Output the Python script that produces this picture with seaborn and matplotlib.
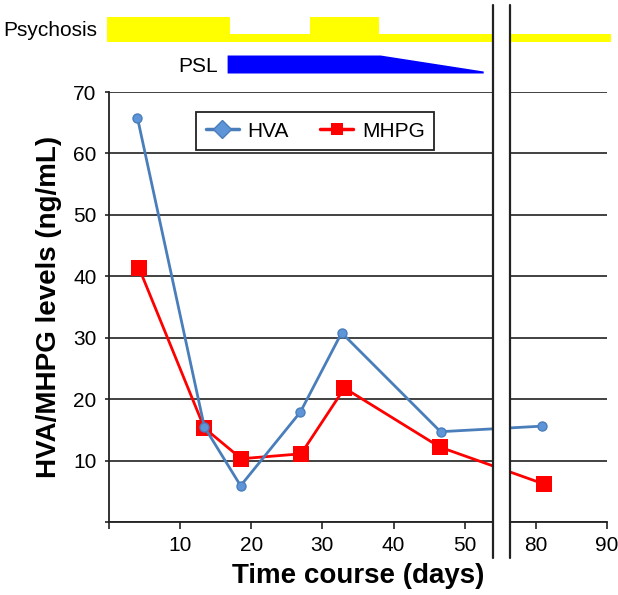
import numpy as np
import pandas as pd
import seaborn as sns
import matplotlib.pyplot as plt
from matplotlib.lines import Line2D
from matplotlib.patches import Rectangle
from matplotlib.transforms import blended_transform_factory

# Values (days, ng/mL)
hva_days = [4.0, 13.4, 18.5, 26.9, 32.7, 46.6, 80.8]
hva_vals = [65.8, 15.5, 5.9, 17.9, 30.8, 14.7, 15.6]
mhpg_days = [4.2, 13.4, 18.6, 27.0, 33.1, 46.5, 81.1]
mhpg_vals = [41.4, 15.3, 10.3, 11.1, 21.8, 12.2, 6.2]

# Clinical course bars (days)
psychosis_span = (0.0, 90.6)
psychosis_high = [(0.0, 17.3), (28.3, 38.0)]
psl_days = [16.6, 38.1, 52.6]  # start, taper start, end

xtick_days = [0, 10, 20, 30, 40, 50, 80, 90]
ytick_vals = [0, 10, 20, 30, 40, 50, 60, 70]

# broken x axis: days 55-75 are cut out
BREAK_AT = 55
SHIFT = 20


def to_axis(d):
    d = np.asarray(d, dtype=float)
    return np.where(d > BREAK_AT, d - SHIFT, d)


sns.set_style("white")
plt.rcParams['font.family'] = ['Liberation Sans', 'DejaVu Sans']
plt.rcParams.update({'text.color': 'black', 'axes.labelcolor': 'black',
                     'xtick.color': 'black', 'ytick.color': 'black'})

W, H = 618, 595
fig = plt.figure(figsize=(W / 100, H / 100), dpi=100)

# main axes (pixel layout)
ax = fig.add_axes([109 / W, (H - 522) / H, (607 - 109) / W, (522 - 92) / H])

hva_color = '#4A7EBB'
df_hva = pd.DataFrame({'pos': to_axis(hva_days), 'value': hva_vals})
df_mhpg = pd.DataFrame({'pos': to_axis(mhpg_days), 'value': mhpg_vals})

sns.lineplot(data=df_mhpg, x='pos', y='value', ax=ax, color='#FF0000', lw=2,
             marker='s', markersize=11, markeredgewidth=0, sort=False,
             estimator=None, zorder=3)
sns.lineplot(data=df_hva, x='pos', y='value', ax=ax, color=hva_color, lw=2,
             marker='o', markersize=6.5, markerfacecolor='#5E94D8',
             markeredgecolor=hva_color, markeredgewidth=1, sort=False,
             estimator=None, zorder=4)

ax.set_xlim(0, 70)
ax.set_ylim(0, 70)
ax.set_xticks(to_axis(xtick_days))
ax.set_xticklabels([str(d) if d > 0 else '' for d in xtick_days], fontsize=15)
ax.set_yticks(ytick_vals)
ax.set_yticklabels([str(v) if v > 0 else '' for v in ytick_vals], fontsize=15)
ax.yaxis.grid(True, color='#333333', lw=1.3)
ax.xaxis.grid(False)
for s in ['top', 'right']:
    ax.spines[s].set_visible(False)
for s in ['left', 'bottom']:
    ax.spines[s].set_color('#222222')
    ax.spines[s].set_linewidth(1.3)
ax.tick_params(axis='x', bottom=True, direction='out', length=5, width=1.2,
               color='#222222', pad=5)
ax.tick_params(axis='y', left=True, direction='out', length=3, width=1.2,
               color='#222222', pad=6)
ax.set_xlabel('Time course (days)', fontsize=20, fontweight='bold', labelpad=6)
ax.set_ylabel('HVA/MHPG levels (ng/mL)', fontsize=20, fontweight='bold', labelpad=8)

handles = [
    Line2D([0], [0], color=hva_color, lw=2.5, marker='D', markersize=9,
           markerfacecolor='#5E94D8', markeredgecolor=hva_color),
    Line2D([0], [0], color='#FF0000', lw=2.5, marker='s', markersize=9,
           markeredgewidth=0),
]
leg = ax.legend(handles, ['HVA', 'MHPG'], loc='upper center', ncol=2,
                bbox_to_anchor=(0.414, 0.977), fontsize=15, frameon=True,
                fancybox=False, framealpha=1, edgecolor='#222222',
                handlelength=1.6, columnspacing=1.5, borderpad=0.45,
                handletextpad=0.4)
leg.get_frame().set_linewidth(1.3)

# top strip: psychosis course and PSL dose (y in pixels from figure top)
ax_top = fig.add_axes([109 / W, (H - 85) / H, (607 - 109) / W, 85 / H])
ax_top.set_xlim(0, 70)
ax_top.set_ylim(85, 0)
ax_top.axis('off')

yellow = '#FFFF00'
span = to_axis(psychosis_span)
ax_top.add_patch(Rectangle((span[0] - 0.3, 34), span[1] - span[0] + 0.3, 8,
                           color=yellow, lw=0, clip_on=False))
for a, b in psychosis_high:
    pa, pb = to_axis([a, b])
    ax_top.add_patch(Rectangle((pa - (0.3 if a == 0 else 0), 17), pb - pa, 25,
                               color=yellow, lw=0, clip_on=False))

psl_x = to_axis(psl_days)
ax_top.fill_between(psl_x, [55, 55, 71], [73, 73, 73], color='#0000FF', lw=0)

ax_top.text(-0.024, 31, 'Psychosis', fontsize=15, ha='right', va='center',
            transform=blended_transform_factory(ax_top.transAxes, ax_top.transData))
ax_top.text(psl_x[0] - 1.3, 66, 'PSL', fontsize=15, ha='right', va='center')

# axis break marks
bt = blended_transform_factory(ax.transData, fig.transFigure)
b_lo, b_hi = 54.0, 56.4
y0, y1 = (H - 558) / H, (H - 5) / H
fig.add_artist(Rectangle((b_lo, y0), b_hi - b_lo, y1 - y0, transform=bt,
                         facecolor='white', edgecolor='none', zorder=10))
for xb in (b_lo, b_hi):
    fig.add_artist(Line2D([xb, xb], [y0, y1], transform=bt, color='#222222',
                          lw=1.6, zorder=11))

fig.savefig('out.png', dpi=100)
